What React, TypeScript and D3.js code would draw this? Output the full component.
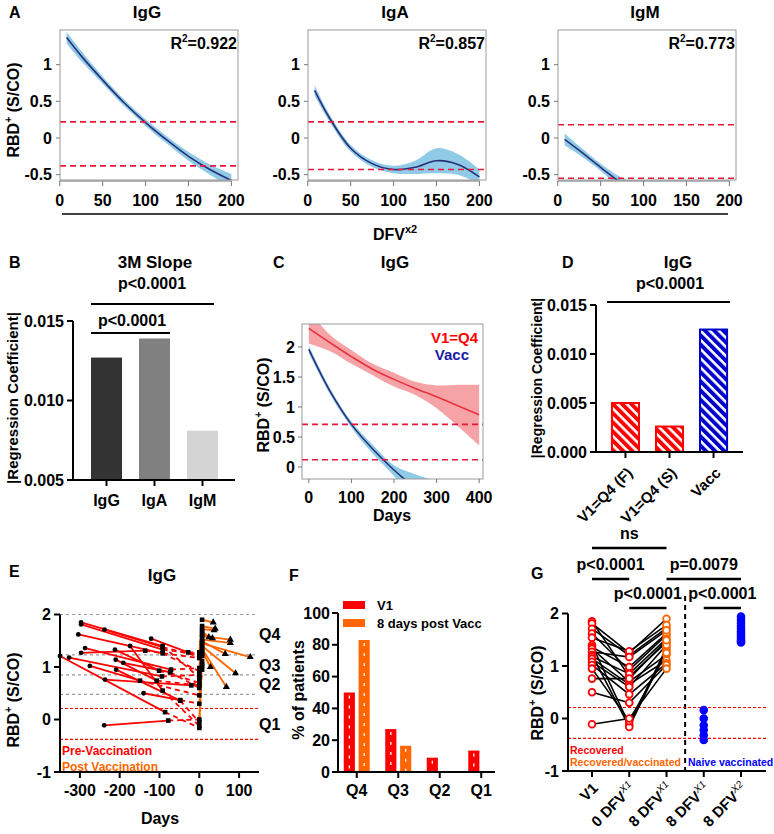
import * as d3 from 'd3';

const FONT = '"Liberation Sans", Arial, Helvetica, sans-serif';
const RED = '#ff0000';
const ORANGE = '#ff6600';
const DASH_RED = '#e8173b';

// ---- A: fitted decay curves (DFV x2) ----
const fitDays = [8, 25, 50, 75, 100, 125, 150, 175, 200];
const igGFit = [1.37, 1.12, 0.79, 0.48, 0.21, -0.03, -0.25, -0.43, -0.58];
const igGBand = [0.08, 0.07, 0.05, 0.045, 0.045, 0.05, 0.06, 0.07, 0.09];
const igAFit = [0.65, 0.28, -0.14, -0.35, -0.43, -0.4, -0.31, -0.36, -0.53];
const igABand = [0.07, 0.05, 0.045, 0.045, 0.05, 0.09, 0.17, 0.14, 0.1];
const igMDays = [8, 25, 50, 70, 85];
const igMFit = [-0.02, -0.17, -0.4, -0.58, -0.7];
const igMBand = [0.08, 0.06, 0.05, 0.07, 0.1];
const fitTitles = ['IgG', 'IgA', 'IgM'];
const fitR2 = ['0.922', '0.857', '0.773'];
const fitCutHigh = [0.22, 0.22, 0.18];
const fitCutLow = [-0.38, -0.43, -0.55];

// ---- B: 3M slope ----
const bCats = ['IgG', 'IgA', 'IgM'];
const bSlope = [0.0127, 0.0139, 0.0081];
const bColors = ['#333333', '#808080', '#d4d4d4'];

// ---- C: IgG V1=Q4 vs Vacc ----
const cRedDays = [0, 50, 100, 150, 200, 250, 300, 350, 400];
const cRedFit = [2.31, 2.07, 1.84, 1.63, 1.46, 1.31, 1.17, 1.02, 0.87];
const cRedUpper = [2.6, 2.2, 1.95, 1.72, 1.57, 1.42, 1.36, 1.37, 1.37];
const cRedLower = [2.06, 1.93, 1.72, 1.53, 1.34, 1.2, 0.98, 0.68, 0.36];
const cBlueDays = [0, 50, 100, 150, 200, 250, 300];
const cBlueFit = [1.96, 1.26, 0.71, 0.3, -0.05, -0.35, -0.62];
const cBlueUpper = [2.02, 1.31, 0.76, 0.37, 0.03, -0.12, -0.23];
const cBlueLower = [1.9, 1.21, 0.66, 0.22, -0.15, -0.6, -1.05];
const cCuts = [0.71, 0.12];

// ---- D: regression coefficients ----
const dCats = ['V1=Q4 (F)', 'V1=Q4 (S)', 'Vacc'];
const dCoef = [0.0051, 0.0027, 0.0126];

// ---- E / G: paired patients ----
const gV1 = [1.85, 1.81, 1.71, 1.62, 1.54, 1.4, 1.36, 1.33, 1.27, 1.21, 1.18, 1.14, 1.08, 1.02, 0.95, 0.76, 0.5, -0.11];
const g0DFV = [0.8, 1.25, 1.2, 0.92, 1.28, -0.12, 0.98, 0.7, 1.17, -0.16, 0.85, 0.65, 0.6, 0.46, -0.05, 0.76, 0.3, 0.0];
const g8DFV = [1.45, 1.9, 1.72, 1.59, 1.78, 1.35, 1.62, 1.21, 1.68, 1.3, 1.52, 1.11, 1.4, 1.05, 1.25, 1.49, 1.02, 0.95];
const gNaive1 = [0.16, 0.0, -0.13, -0.22, -0.32, -0.41];
const gNaive2 = [1.94, 1.88, 1.82, 1.76, 1.71, 1.66, 1.62, 1.58, 1.54, 1.5, 1.47, 1.45];
const eV1Day = [-297, -297, -238, -304, -121, -174, -287, -212, -297, -350, -327, -210, -191, -275, -209, -237, -140, -239];
const eV2Day = [-92, -92, -92, -92, -28, -92, -71, -101, -136, -86, -94, -107, -73, -149, -48, -20, -48, -78];
const eV2Val = [1.4, 1.33, 1.38, 1.26, 1.28, 0.55, 0.95, 0.93, 1.31, 0.14, 0.82, 0.74, 0.9, 0.74, 0.36, 0.65, 0.37, -0.02];
const ePostDay = 7;
const eV3Day = [128, 35, 37, 78, 40, 68, 33, null, 24, 28, 78, null, 91, null, null, 65, null, null];
const eV3Val = [1.19, 1.85, 1.7, 1.52, 1.73, 0.62, 1.55, null, 1.57, 1.0, 1.46, null, 0.88, null, null, 1.25, null, null];
const eQuartiles = [2.0, 1.23, 0.85, 0.48];
const cutoffs = [0.21, -0.38];
const eQLabels = ['Q4', 'Q3', 'Q2', 'Q1'];

// ---- F: quartile distribution ----
const fCats = ['Q4', 'Q3', 'Q2', 'Q1'];
const fSeries = ['V1', '8 days post Vacc'];
const fV1 = [50, 27, 9, 13.5];
const fPost = [83, 16.5, 0, 0];

// ---- G ----
const gCats = ['V1', '0x1', '8x1', '8x1n', '8x2'];
const gLabels: [string, string][] = [['V1', ''], ['0 DFV', 'X1'], ['8 DFV', 'X1'], ['8 DFV', 'X1'], ['8 DFV', 'X2']];

const txt = { fontFamily: FONT, fontWeight: 700 } as const;

const RBDLabel = ({ x, y, size = 16 }: { x: number; y: number; size?: number }) => (
  <text transform={`translate(${x},${y}) rotate(-90)`} textAnchor="middle" fontSize={size} dy="0.35em" {...txt}>
    RBD<tspan fontSize={size * 0.65} dy={-size * 0.4}>+</tspan>
    <tspan dy={size * 0.4}> (S/CO)</tspan>
  </text>
);

function FitPanel({ i, x0, days, fit, band }: { i: number; x0: number; days: number[]; fit: number[]; band: number[] }) {
  const w = 178;
  const x = d3.scaleLinear().domain([0.3, 207.7]).range([x0, x0 + w]);
  const y = d3.scaleLinear().domain([-0.573, 1.473]).range([180, 30]);
  const pts = days.map((d, k) => ({ d, v: fit[k], b: band[k] }));
  const area = d3.area<any>().x((p) => x(p.d)).y0((p) => y(p.v - p.b)).y1((p) => y(p.v + p.b)).curve(d3.curveCatmullRom);
  const line = d3.line<any>().x((p) => x(p.d)).y((p) => y(p.v)).curve(d3.curveCatmullRom);
  const id = `clipA${i}`;
  return (
    <g>
      <defs>
        <clipPath id={id}>
          <rect x={x0} y={30} width={w} height={150} />
        </clipPath>
      </defs>
      <g clipPath={`url(#${id})`}>
        <path d={area(pts) || ''} fill="#8fcbe6" />
        <path d={line(pts) || ''} fill="none" stroke="#27307a" strokeWidth={1.6} />
      </g>
      {[fitCutHigh[i], fitCutLow[i]].map((c, k) => (
        <line key={k} x1={x0} x2={x0 + w} y1={y(c)} y2={y(c)} stroke={DASH_RED} strokeWidth={1.6} strokeDasharray="6 4" />
      ))}
      <rect x={x0} y={30} width={w} height={150} fill="none" stroke="#9a9a9a" strokeWidth={1} />
      {[-0.5, 0, 0.5, 1].map((t) => (
        <g key={t}>
          <line x1={x0 - 4} x2={x0} y1={y(t)} y2={y(t)} stroke="#777" />
          <text x={x0 - 8} y={y(t)} dy="0.35em" textAnchor="end" fontSize={16} {...txt}>
            {t}
          </text>
        </g>
      ))}
      <line x1={x(0)} x2={x(200)} y1={181} y2={181} stroke="#777" />
      {[0, 50, 100, 150, 200].map((t) => (
        <g key={t}>
          <line x1={x(t)} x2={x(t)} y1={181} y2={186} stroke="#777" />
          <text x={x(t)} y={206} textAnchor="middle" fontSize={16} {...txt}>
            {t}
          </text>
        </g>
      ))}
      <text x={x0 + 87} y={18} textAnchor="middle" fontSize={17} {...txt}>
        {fitTitles[i]}
      </text>
      <text x={x0 + w - 1} y={49} textAnchor="end" fontSize={16} {...txt}>
        R<tspan fontSize={10} dy={-7}>2</tspan>
        <tspan dy={7}>={fitR2[i]}</tspan>
      </text>
    </g>
  );
}

function PanelB() {
  const y = d3.scaleLinear().domain([0.005, 0.015]).range([480, 321]);
  const x = d3.scaleBand().domain(bCats).range([82.5, 226.5]).paddingInner(0.354).paddingOuter(0.177);
  const fmt = d3.format('.3f');
  return (
    <g>
      <text x={9} y={268} fontSize={16} {...txt}>B</text>
      <text x={155} y={268} textAnchor="middle" fontSize={17} {...txt}>3M Slope</text>
      <text x={152} y={289} textAnchor="middle" fontSize={16} {...txt}>p&lt;0.0001</text>
      <line x1={x('IgG')!} x2={x('IgM')! + x.bandwidth() - 4} y1={304} y2={304} stroke="#000" strokeWidth={2} />
      <text x={132} y={326} textAnchor="middle" fontSize={16} {...txt}>p&lt;0.0001</text>
      <line x1={x('IgG')!} x2={x('IgA')! + x.bandwidth()} y1={333} y2={333} stroke="#000" strokeWidth={2} />
      {bCats.map((c, k) => (
        <rect key={c} x={x(c)} y={y(bSlope[k])} width={x.bandwidth()} height={480 - y(bSlope[k])} fill={bColors[k]} />
      ))}
      <line x1={73} x2={73} y1={y(0.015)} y2={481} stroke="#000" strokeWidth={2} />
      <line x1={72} x2={235} y1={480} y2={480} stroke="#000" strokeWidth={2} />
      {[0.005, 0.01, 0.015].map((t) => (
        <g key={t}>
          <line x1={67} x2={73} y1={y(t)} y2={y(t)} stroke="#000" strokeWidth={2} />
          <text x={64} y={y(t)} dy="0.35em" textAnchor="end" fontSize={16} {...txt}>{fmt(t)}</text>
        </g>
      ))}
      {bCats.map((c) => (
        <g key={c}>
          <line x1={x(c)! + x.bandwidth() / 2} x2={x(c)! + x.bandwidth() / 2} y1={480} y2={486} stroke="#000" strokeWidth={2} />
          <text x={x(c)! + x.bandwidth() / 2} y={506} textAnchor="middle" fontSize={16} {...txt}>{c}</text>
        </g>
      ))}
      <text transform="translate(13,398) rotate(-90)" textAnchor="middle" dy="0.35em" fontSize={15} {...txt}>
        |Regression Coefficient|
      </text>
    </g>
  );
}

function PanelC() {
  const x0 = 302, x1 = 483, yTop = 324, yBot = 479;
  const x = d3.scaleLinear().domain([-16, 409]).range([x0, x1]);
  const y = d3.scaleLinear().domain([-0.2, 2.383]).range([yBot, yTop]);
  const red = cRedDays.map((d, k) => ({ d, v: cRedFit[k], hi: cRedUpper[k], lo: cRedLower[k] }));
  const blue = cBlueDays.map((d, k) => ({ d, v: cBlueFit[k], hi: cBlueUpper[k], lo: cBlueLower[k] }));
  const area = d3.area<any>().x((p) => x(p.d)).y0((p) => y(p.lo)).y1((p) => y(p.hi)).curve(d3.curveCatmullRom);
  const line = d3.line<any>().x((p) => x(p.d)).y((p) => y(p.v)).curve(d3.curveCatmullRom);
  return (
    <g>
      <defs>
        <clipPath id="clipC">
          <rect x={x0} y={yTop} width={x1 - x0} height={yBot - yTop} />
        </clipPath>
      </defs>
      <text x={273} y={268} fontSize={16} {...txt}>C</text>
      <text x={395} y={268} textAnchor="middle" fontSize={17} {...txt}>IgG</text>
      <g clipPath="url(#clipC)">
        <path d={area(red) || ''} fill="#f5a3a6" />
        <path d={area(blue) || ''} fill="#8fcbe6" />
        <path d={line(red) || ''} fill="none" stroke="#e8333f" strokeWidth={1.6} />
        <path d={line(blue) || ''} fill="none" stroke="#27307a" strokeWidth={1.6} />
      </g>
      {cCuts.map((c) => (
        <line key={c} x1={x0} x2={x1} y1={y(c)} y2={y(c)} stroke={DASH_RED} strokeWidth={1.6} strokeDasharray="6 4" />
      ))}
      <rect x={x0} y={yTop} width={x1 - x0} height={yBot - yTop} fill="none" stroke="#9a9a9a" />
      {[0, 0.5, 1, 1.5, 2].map((t) => (
        <g key={t}>
          <line x1={x0 - 4} x2={x0} y1={y(t)} y2={y(t)} stroke="#777" />
          <text x={x0 - 7} y={y(t)} dy="0.35em" textAnchor="end" fontSize={16} {...txt}>{t}</text>
        </g>
      ))}
      {[0, 100, 200, 300, 400].map((t) => (
        <g key={t}>
          <line x1={x(t)} x2={x(t)} y1={yBot} y2={yBot + 4} stroke="#777" />
          <text x={x(t)} y={503} textAnchor="middle" fontSize={16} {...txt}>{t}</text>
        </g>
      ))}
      <text x={392} y={521} textAnchor="middle" fontSize={16} {...txt}>Days</text>
      <text x={478} y={343} textAnchor="end" fontSize={15} fill={RED} {...txt}>V1=Q4</text>
      <text x={469} y={360} textAnchor="end" fontSize={15} fill="#1a1aa8" {...txt}>Vacc</text>
      <RBDLabel x={263} y={405} />
    </g>
  );
}

function PanelD() {
  const y = d3.scaleLinear().domain([0, 0.015]).range([452, 305]);
  const x = d3.scaleBand().domain(dCats).range([603, 736]).paddingInner(0.34).paddingOuter(0.18);
  const fmt = d3.format('.3f');
  const fills = ['url(#hatchRed)', 'url(#hatchRed)', 'url(#hatchBlue)'];
  const strokes = [RED, RED, '#0000cc'];
  return (
    <g>
      <defs>
        <pattern id="hatchRed" width={6.5} height={6.5} patternUnits="userSpaceOnUse" patternTransform="rotate(-45)">
          <rect width={6.5} height={6.5} fill={RED} />
          <line x1={1.5} x2={1.5} y1={0} y2={6.5} stroke="#fff" strokeWidth={2.6} />
        </pattern>
        <pattern id="hatchBlue" width={6.5} height={6.5} patternUnits="userSpaceOnUse" patternTransform="rotate(-45)">
          <rect width={6.5} height={6.5} fill="#0000cc" />
          <line x1={1.5} x2={1.5} y1={0} y2={6.5} stroke="#fff" strokeWidth={2.6} />
        </pattern>
      </defs>
      <text x={562} y={268} fontSize={16} {...txt}>D</text>
      <text x={678} y={268} textAnchor="middle" fontSize={17} {...txt}>IgG</text>
      <text x={670} y={289} textAnchor="middle" fontSize={16} {...txt}>p&lt;0.0001</text>
      <line x1={x(dCats[0])! - 4} x2={x(dCats[2])! + x.bandwidth() + 2} y1={302} y2={302} stroke="#000" strokeWidth={2} />
      {dCats.map((c, k) => (
        <rect key={c} x={x(c)! + 1} y={y(dCoef[k]) + 1} width={x.bandwidth() - 2} height={452 - y(dCoef[k]) - 1}
          fill={fills[k]} stroke={strokes[k]} strokeWidth={2} />
      ))}
      <line x1={596} x2={596} y1={y(0.015)} y2={453} stroke="#000" strokeWidth={2} />
      <line x1={595} x2={743} y1={452} y2={452} stroke="#000" strokeWidth={2} />
      {[0, 0.005, 0.01, 0.015].map((t) => (
        <g key={t}>
          <line x1={590} x2={596} y1={y(t)} y2={y(t)} stroke="#000" strokeWidth={2} />
          <text x={587} y={y(t)} dy="0.35em" textAnchor="end" fontSize={16} {...txt}>{fmt(t)}</text>
        </g>
      ))}
      {dCats.map((c) => {
        const cx = x(c)! + x.bandwidth() / 2;
        return (
          <g key={c}>
            <line x1={cx} x2={cx} y1={452} y2={458} stroke="#000" strokeWidth={2} />
            <text transform={`translate(${cx + 8},${474}) rotate(-45)`} textAnchor="end" fontSize={15} {...txt}>{c}</text>
          </g>
        );
      })}
      <text transform="translate(537,378) rotate(-90)" textAnchor="middle" dy="0.35em" fontSize={14} {...txt}>
        |Regression Coefficient|
      </text>
    </g>
  );
}

function PanelE() {
  const x = d3.scaleLinear().domain([-350, 150]).range([60, 259]);
  const y = d3.scaleLinear().domain([-1, 2]).range([772, 614.5]);
  const sq = (cx: number, cy: number, k: string) => <rect key={k} x={cx - 2.3} y={cy - 2.3} width={4.6} height={4.6} fill="#000" />;
  const tri = d3.symbol().type(d3.symbolTriangle).size(22);
  const qMid = [
    (eQuartiles[0] + eQuartiles[1]) / 2,
    (eQuartiles[1] + eQuartiles[2]) / 2,
    (eQuartiles[2] + eQuartiles[3]) / 2,
    (cutoffs[0] + cutoffs[1]) / 2,
  ];
  return (
    <g>
      <text x={9} y={577} fontSize={16} {...txt}>E</text>
      <text x={162} y={581} textAnchor="middle" fontSize={17} {...txt}>IgG</text>
      {eQuartiles.map((q) => (
        <line key={q} x1={60} x2={258} y1={y(q)} y2={y(q)} stroke="#9a9a9a" strokeWidth={1.2} strokeDasharray="3 3" />
      ))}
      {cutoffs.map((c) => (
        <line key={c} x1={60} x2={258} y1={y(c)} y2={y(c)} stroke={RED} strokeWidth={1.2} strokeDasharray="3 2" />
      ))}
      {gV1.map((v, k) => (
        <g key={k}>
          <line x1={x(eV1Day[k])} y1={y(v)} x2={x(eV2Day[k])} y2={y(eV2Val[k])} stroke={RED} strokeWidth={1.8} />
          <line x1={x(eV2Day[k])} y1={y(eV2Val[k])} x2={x(0)} y2={y(g0DFV[k])} stroke={RED} strokeWidth={1.8} strokeDasharray="5 4" />
        </g>
      ))}
      {gV1.map((_, k) => (
        <g key={k}>
          <line x1={x(0)} y1={y(g0DFV[k])} x2={x(ePostDay)} y2={y(g8DFV[k])} stroke={ORANGE} strokeWidth={1.8} strokeDasharray="5 3" />
          {eV3Day[k] !== null && (
            <line x1={x(ePostDay)} y1={y(g8DFV[k])} x2={x(eV3Day[k] as number)} y2={y(eV3Val[k] as number)} stroke={ORANGE} strokeWidth={1.8} />
          )}
        </g>
      ))}
      {gV1.map((v, k) => (
        <g key={k}>
          <circle cx={x(eV1Day[k])} cy={y(v)} r={2.4} fill="#000" />
          {sq(x(eV2Day[k]), y(eV2Val[k]), 'a')}
          {sq(x(0), y(g0DFV[k]), 'b')}
          {sq(x(ePostDay), y(g8DFV[k]), 'c')}
          {eV3Day[k] !== null && (
            <path d={tri() || ''} transform={`translate(${x(eV3Day[k] as number)},${y(eV3Val[k] as number)})`} fill="#000" />
          )}
        </g>
      ))}
      {eQLabels.map((q, k) => (
        <text key={q} x={259} y={y(qMid[k])} dy="0.35em" fontSize={16} {...txt}>{q}</text>
      ))}
      <line x1={60} x2={60} y1={y(2)} y2={773} stroke="#000" strokeWidth={2} />
      <line x1={59} x2={259} y1={772} y2={772} stroke="#000" strokeWidth={2} />
      {[-1, 0, 1, 2].map((t) => (
        <g key={t}>
          <line x1={54} x2={60} y1={y(t)} y2={y(t)} stroke="#000" strokeWidth={2} />
          <text x={51} y={y(t)} dy="0.35em" textAnchor="end" fontSize={16} {...txt}>{t}</text>
        </g>
      ))}
      {[-300, -200, -100, 0, 100].map((t) => (
        <g key={t}>
          <line x1={x(t)} x2={x(t)} y1={772} y2={778} stroke="#000" strokeWidth={2} />
          <text x={x(t)} y={796} textAnchor="middle" fontSize={16} {...txt}>{t}</text>
        </g>
      ))}
      <text x={62} y={755} fontSize={12} fill={RED} {...txt}>Pre-Vaccination</text>
      <text x={62} y={771} fontSize={12} fill={ORANGE} {...txt}>Post Vaccination</text>
      <text x={160} y={824} textAnchor="middle" fontSize={16} {...txt}>Days</text>
      <RBDLabel x={13} y={700} />
    </g>
  );
}

function PanelF() {
  const y = d3.scaleLinear().domain([0, 100]).range([772, 613]);
  const x = d3.scaleBand().domain(fCats).range([336, 502]);
  const sub = d3.scaleBand().domain(fSeries).range([-13, 13]).paddingInner(0.25);
  const colors = [RED, ORANGE];
  const vals = [fV1, fPost];
  return (
    <g>
      <text x={289} y={581} fontSize={16} {...txt}>F</text>
      {fSeries.map((s, si) =>
        fCats.map((c, k) => {
          const v = vals[si][k];
          if (!v) return null;
          const bx = x(c)! + x.bandwidth() / 2 + sub(s)!;
          const cx = bx + sub.bandwidth() / 2;
          return (
            <g key={s + c}>
              <rect x={bx} y={y(v)} width={sub.bandwidth()} height={772 - y(v)} fill={colors[si]} />
              <line x1={cx} x2={cx} y1={y(v) + 3} y2={771} stroke="#fff" strokeWidth={1.3} strokeDasharray="3 7" />
            </g>
          );
        })
      )}
      <line x1={338} x2={338} y1={y(100)} y2={773} stroke="#000" strokeWidth={2} />
      <line x1={337} x2={495} y1={772} y2={772} stroke="#000" strokeWidth={2} />
      {[0, 20, 40, 60, 80, 100].map((t) => (
        <g key={t}>
          <line x1={332} x2={338} y1={y(t)} y2={y(t)} stroke="#000" strokeWidth={2} />
          <text x={330} y={y(t)} dy="0.35em" textAnchor="end" fontSize={16} {...txt}>{t}</text>
        </g>
      ))}
      {fCats.map((c) => (
        <g key={c}>
          <line x1={x(c)! + x.bandwidth() / 2} x2={x(c)! + x.bandwidth() / 2} y1={772} y2={778} stroke="#000" strokeWidth={2} />
          <text x={x(c)! + x.bandwidth() / 2} y={796} textAnchor="middle" fontSize={16} {...txt}>{c}</text>
        </g>
      ))}
      {fSeries.map((s, si) => (
        <g key={s}>
          <rect x={343} y={601 + si * 18} width={22} height={8} fill={colors[si]} />
          <text x={377} y={610 + si * 18} fontSize={13} {...txt}>{s}</text>
        </g>
      ))}
      <text transform="translate(298,690) rotate(-90)" textAnchor="middle" dy="0.35em" fontSize={16} {...txt}>
        % of patients
      </text>
    </g>
  );
}

function PanelG() {
  const x = d3.scalePoint().domain(gCats).range([592, 741]);
  const y = d3.scaleLinear().domain([-1, 2]).range([771, 613.5]);
  const sep = (x('8x1')! + x('8x1n')!) / 2;
  const sig: [string, string, number, string][] = [
    ['V1', '8x1', 548, 'ns'],
    ['V1', '0x1', 579, 'p<0.0001'],
    ['8x1', '8x2', 579, 'p=0.0079'],
    ['0x1', '8x1', 608, 'p<0.0001'],
    ['8x1n', '8x2', 608, 'p<0.0001'],
  ];
  const dot = (cx: number, cy: number, c: string, k: string, fill = '#fff') => (
    <circle key={k} cx={cx} cy={cy} r={3.4} fill={fill} stroke={c} strokeWidth={1.8} />
  );
  return (
    <g>
      <text x={531} y={579} fontSize={16} {...txt}>G</text>
      {sig.map(([a, b, yy, lab], k) => (
        <g key={k}>
          <line x1={x(a)} x2={x(b)} y1={yy} y2={yy} stroke="#000" strokeWidth={2.6} />
          <text x={(x(a)! + x(b)!) / 2} y={yy - 9} textAnchor="middle" fontSize={16} {...txt}>{lab}</text>
        </g>
      ))}
      <line x1={sep} x2={sep} y1={596} y2={771} stroke="#000" strokeWidth={2} strokeDasharray="5 4" />
      {cutoffs.map((c) => (
        <line key={c} x1={568} x2={766} y1={y(c)} y2={y(c)} stroke={RED} strokeWidth={1.2} strokeDasharray="3 2" />
      ))}
      {gV1.map((v, k) => (
        <path key={k} d={`M${x('V1')},${y(v)}L${x('0x1')},${y(g0DFV[k])}L${x('8x1')},${y(g8DFV[k])}`}
          fill="none" stroke="#000" strokeWidth={1.6} />
      ))}
      {gV1.map((v, k) => dot(x('V1')!, y(v), RED, 'a' + k))}
      {g0DFV.map((v, k) => dot(x('0x1')!, y(v), RED, 'b' + k))}
      {g8DFV.map((v, k) => dot(x('8x1')!, y(v), ORANGE, 'c' + k))}
      {gNaive1.map((v, k) => dot(x('8x1n')!, y(v), '#0000ff', 'd' + k, '#0000ff'))}
      {gNaive2.map((v, k) => dot(x('8x2')!, y(v), '#0000ff', 'e' + k, '#0000ff'))}
      <line x1={568} x2={568} y1={y(2)} y2={772} stroke="#000" strokeWidth={2} />
      <line x1={567} x2={766} y1={771} y2={771} stroke="#000" strokeWidth={2} />
      {[-1, 0, 1, 2].map((t) => (
        <g key={t}>
          <line x1={562} x2={568} y1={y(t)} y2={y(t)} stroke="#000" strokeWidth={2} />
          <text x={559} y={y(t)} dy="0.35em" textAnchor="end" fontSize={16} {...txt}>{t}</text>
        </g>
      ))}
      {gCats.map((c, k) => (
        <g key={c}>
          <line x1={x(c)} x2={x(c)} y1={771} y2={777} stroke="#000" strokeWidth={2} />
          <text transform={`translate(${x(c)! + 7},${789}) rotate(-45)`} textAnchor="end" fontSize={15} {...txt}>
            {gLabels[k][0]}
            {gLabels[k][1] && (
              <tspan fontSize={10} fontStyle="italic" fontWeight={400} dy={-6}>{gLabels[k][1]}</tspan>
            )}
          </text>
        </g>
      ))}
      <text x={570} y={754} fontSize={10.5} fill={RED} {...txt}>Recovered</text>
      <text x={570} y={766} fontSize={10.5} fill={ORANGE} {...txt}>Recovered/vaccinated</text>
      <text x={688} y={766} fontSize={10.5} fill="#0000ff" {...txt}>Naive vaccinated</text>
      <RBDLabel x={537} y={693} />
    </g>
  );
}

export default function App() {
  const fits = [
    { days: fitDays, fit: igGFit, band: igGBand, x0: 60 },
    { days: fitDays, fit: igAFit, band: igABand, x0: 308 },
    { days: igMDays, fit: igMFit, band: igMBand, x0: 558 },
  ];
  return (
    <svg width={774} height={834} viewBox="0 0 774 834" style={{ position: 'absolute', left: 0, top: 0, background: '#fff' }}>
      <rect width={774} height={834} fill="#fff" />
      <text x={9} y={18} fontSize={16} {...txt}>A</text>
      {fits.map((f, i) => (
        <FitPanel key={i} i={i} x0={f.x0} days={f.days} fit={f.fit} band={f.band} />
      ))}
      <RBDLabel x={13} y={110} />
      <line x1={62} x2={728} y1={214} y2={214} stroke="#000" strokeWidth={1.5} />
      <text x={395} y={240} textAnchor="middle" fontSize={16} {...txt}>
        DFV<tspan fontSize={11} dy={-7}>x2</tspan>
      </text>
      <PanelB />
      <PanelC />
      <PanelD />
      <PanelE />
      <PanelF />
      <PanelG />
    </svg>
  );
}
